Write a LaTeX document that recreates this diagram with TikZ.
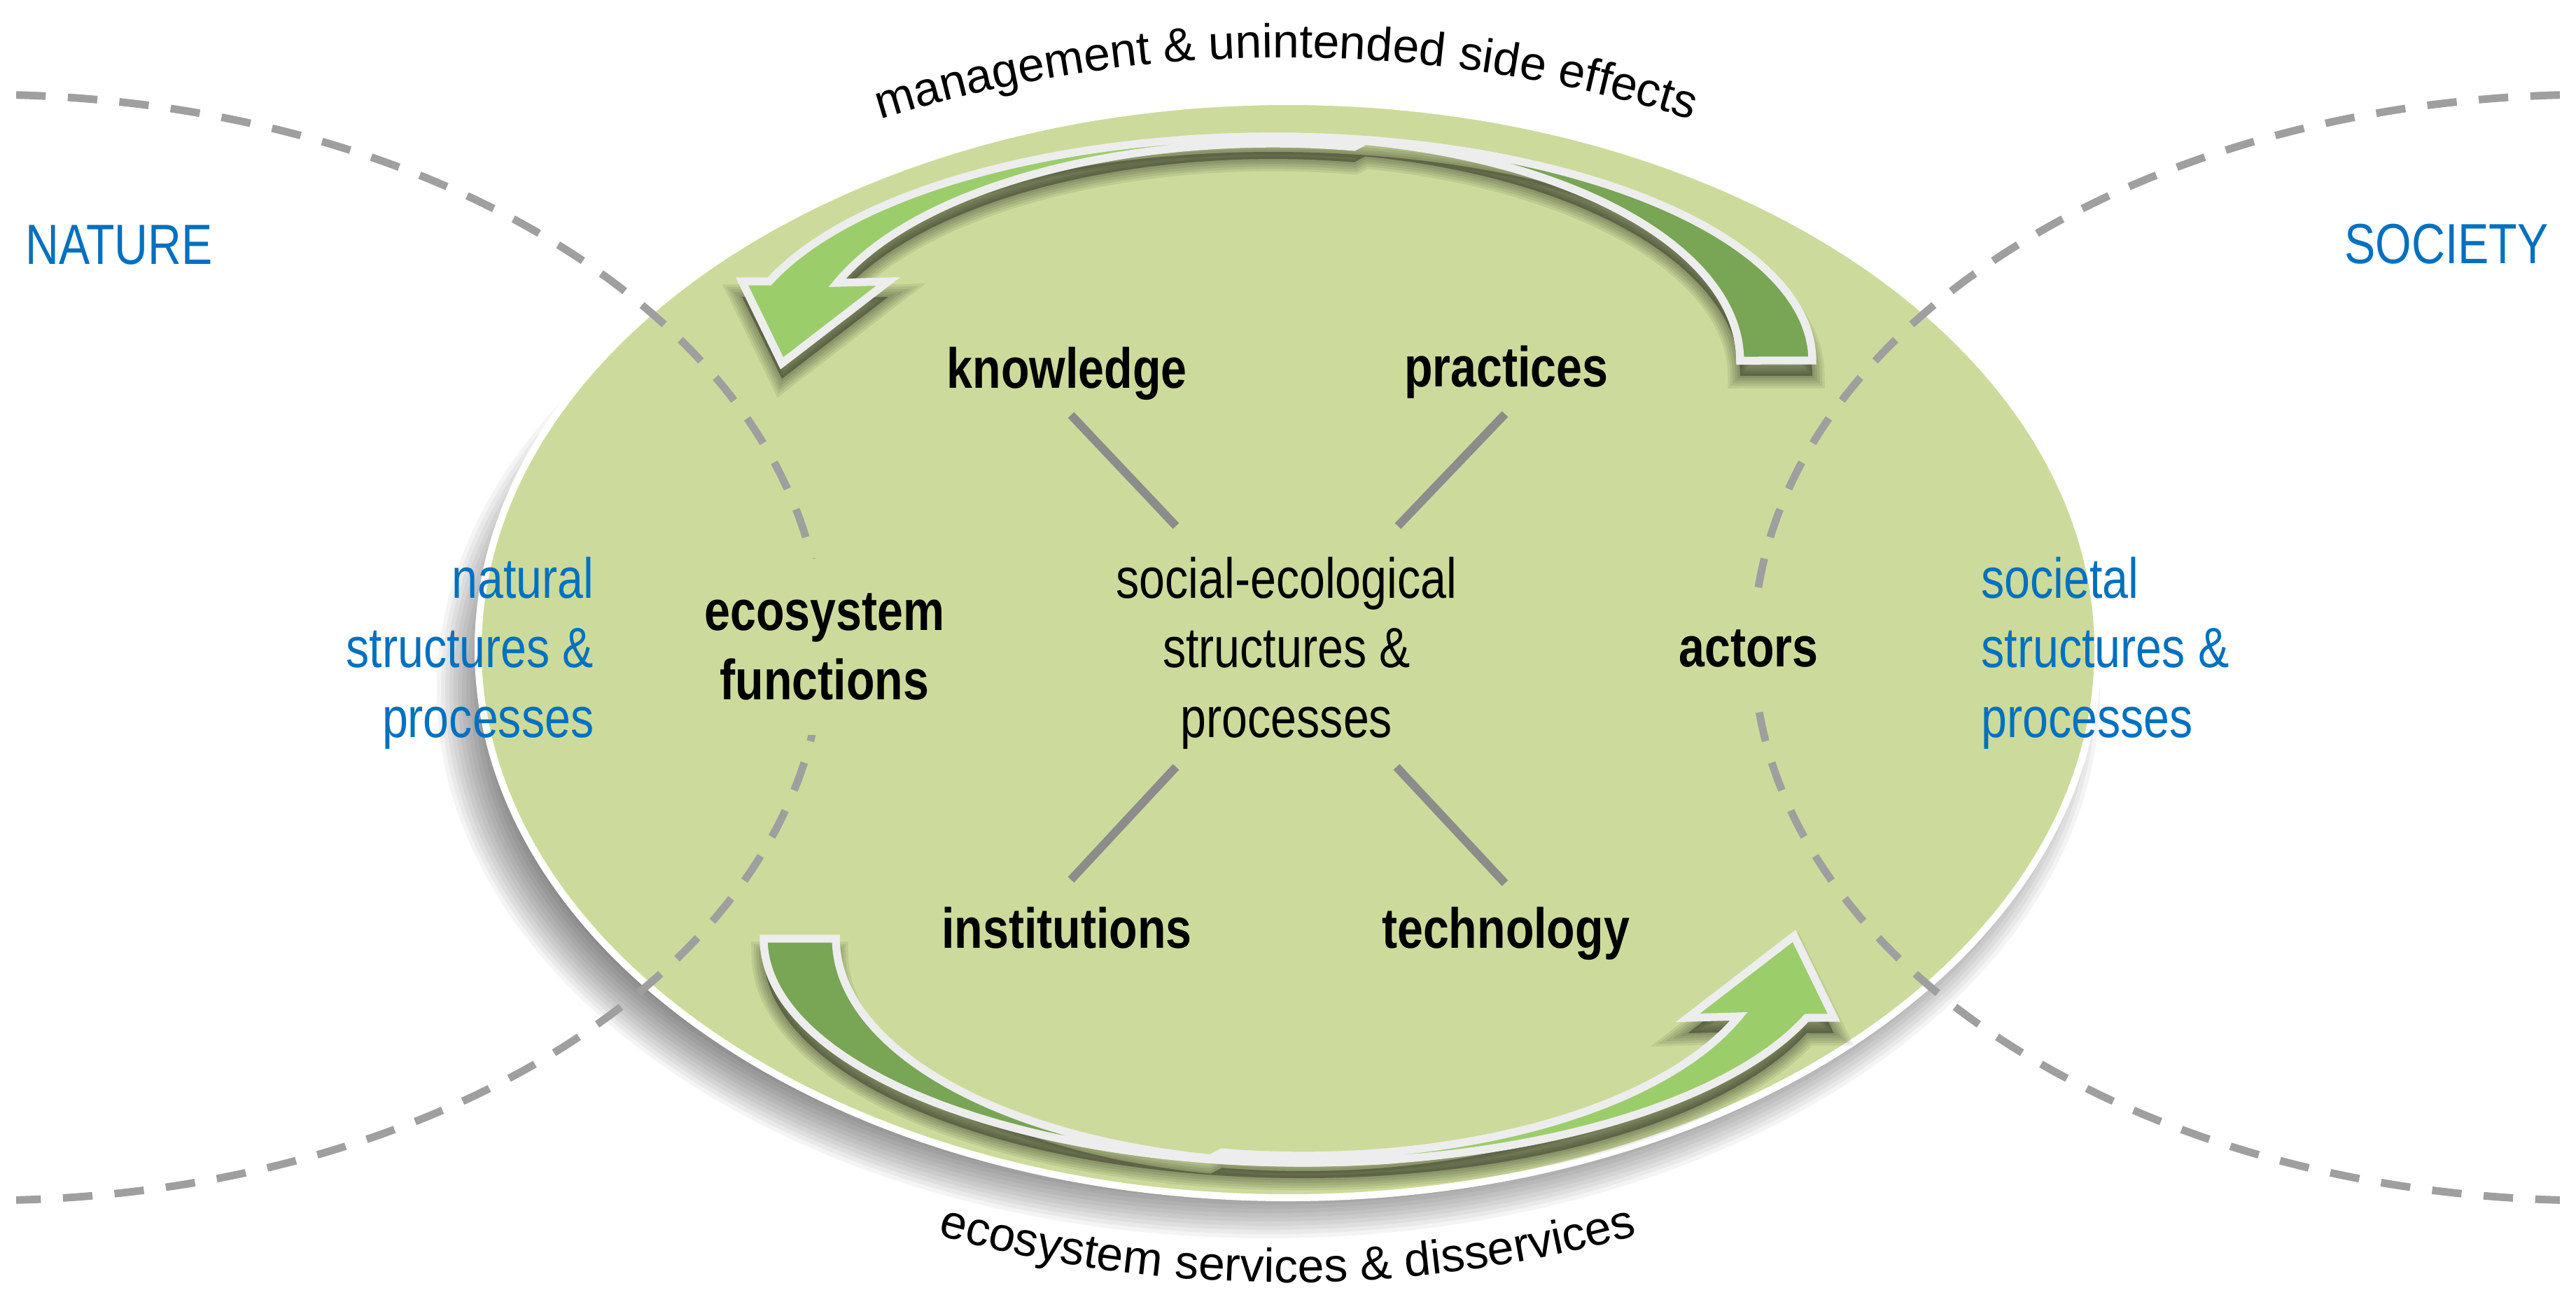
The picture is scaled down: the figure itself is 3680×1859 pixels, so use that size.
\documentclass[tikz,border=0pt]{standalone}
\usepackage{fontspec}
\setmainfont{Liberation Sans}[FakeStretch=0.82]
\newfontfamily\arcfamily{Liberation Sans}
\usetikzlibrary{decorations.text}
\definecolor{ellgreen}{HTML}{CCDB9B}
\definecolor{darkband}{HTML}{78A655}
\definecolor{lightband}{HTML}{9BCE6B}
\definecolor{rimgray}{HTML}{EDEDED}
\definecolor{dashgray}{HTML}{9F9F9F}
\definecolor{linkgray}{HTML}{8C8C8C}
\definecolor{natblue}{HTML}{0070C0}
\newcommand\labelfont{\fontsize{23}{28.2}\selectfont}
\newcommand\arcfont{\arcfamily\fontsize{19.3}{23}\selectfont}
\tikzset{
  plain label/.style={font=\labelfont, align=center, inner sep=0pt},
  key label/.style={plain label, font=\labelfont\bfseries},
  side label/.style={plain label, text=natblue},
  spoke/.style={draw=linkgray, line width=3.4pt},
  boundary line/.style={draw=dashgray, line width=3.1pt, dash pattern=on 12pt off 9pt},
  arc label/.style={decorate, decoration={text along path, text align=center, text={|\arcfont|#1}}}
}
\begin{document}
\begin{tikzpicture}[x=0.01cm, y=-0.01cm]
  \def\bandpath{(749,-413) arc[start angle=0, end angle=-100, x radius=770, y radius=320]
    -- (-137,-728) arc[start angle=-100, end angle=0, x radius=667, y radius=320] -- cycle}
  \def\headpath{(113,-728) arc[start angle=-80, end angle=-159.3, x radius=770, y radius=320]
    -- (-780,-526) -- (-723,-409) -- (-571,-526) -- (-644,-524)
    arc[start angle=-159, end angle=-80, x radius=667, y radius=310] -- cycle}
  \fill[white] (0,0) rectangle (3680,1859);
  \useasboundingbox (0,0) rectangle (3680,1859);
  \foreach \i in {0,...,13}
    \fill[black, fill opacity=.045] (1812,986) ellipse [x radius=1110+6*\i, y radius=705+6*\i];
  \draw[white, line width=2.85pt, fill=ellgreen] (1840,928) ellipse [x radius=1157, y radius=783];
  \draw[boundary line] ([shift={(-87.7:1200 and 790)}]-25,925)
    arc[start angle=-87.7, end angle=87.7, x radius=1200, y radius=790];
  \draw[boundary line] ([shift={(-92.3:1200 and 790)}]3705,925)
    arc[start angle=-92.3, end angle=-267.7, x radius=1200, y radius=790];
  \path[arc label={management {\&} unintended side effects}]
    ([shift={(-110:1934)}]1837,2016) arc[start angle=-110, end angle=-70, radius=1934];
  \path[arc label={ecosystem services {\&} disservices}]
    ([shift={(108:1889)}]1839,-57) arc[start angle=108, end angle=72, radius=1889];
  \foreach \rot/\dy in {0/22,180/-22}{
    \begin{scope}[shift={(1840,928)}, rotate=\rot]
      \foreach \w in {10,8,6,4,2}
        \path[fill=black, draw=black, fill opacity=.07, draw opacity=.07, line width=\w pt,
          shift={(0,\dy)}] \bandpath \headpath;
      \path[fill=darkband, draw=rimgray, line width=3.2pt] \bandpath;
      \path[fill=lightband, draw=rimgray, line width=3.2pt] \headpath;
    \end{scope}
  }
  \node[side label, anchor=base] (nature) at (170,377) {NATURE};
  \node[side label, anchor=base] (society) at (3495,376) {SOCIETY};
  \node[side label, anchor=east, align=right] (natural) at (849,933) {natural\\structures \&\\processes};
  \node[side label, anchor=west, align=left] (societal) at (2830,933) {societal\\structures \&\\processes};
  \node[key label, fill=ellgreen, inner xsep=6pt, inner ysep=14pt] (ecofun) at (1178,924) {ecosystem\\functions};
  \node[key label, fill=ellgreen, inner xsep=3pt, inner ysep=13pt, anchor=base] (actors) at (2498,952) {actors};
  \node[plain label] (sec) at (1838,933) {social-ecological\\structures \&\\processes};
  \node[key label, anchor=base] (know) at (1524,554) {knowledge};
  \node[key label, anchor=base] (prac) at (2152,552) {practices};
  \node[key label, anchor=base] (inst) at (1524,1354) {institutions};
  \node[key label, anchor=base] (tech) at (2151,1354) {technology};
  \draw[spoke] ([shift={(6,21)}]know.south) -- ([shift={(-158,-44)}]sec.north);
  \draw[spoke] ([shift={(-2,22)}]prac.south) -- ([shift={(159,-44)}]sec.north);
  \draw[spoke] ([shift={(6,-38)}]inst.north) -- ([shift={(-158,25)}]sec.south);
  \draw[spoke] ([shift={(-1,-33)}]tech.north) -- ([shift={(157,25)}]sec.south);
\end{tikzpicture}
\end{document}
